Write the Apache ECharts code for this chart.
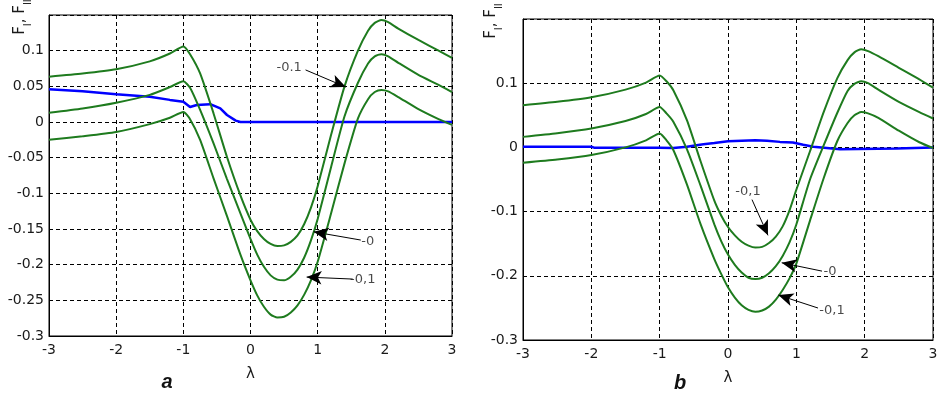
<!DOCTYPE html>
<html>
<head>
<meta charset="utf-8">
<script src="https://cdn.jsdelivr.net/npm/echarts@6/dist/echarts.min.js"></script>
<style>
html,body{margin:0;padding:0;background:#fff}
#chart{width:944px;height:394px}
</style>
</head>
<body>
<div id="chart"></div>
<script>
// panel a
var lamA=[-3,-2.5,-2,-1.5,-1.2,-1,-0.9,-0.75,-0.55,-0.35,-0.15,0,0.1,0.2,0.3,0.4,0.5,0.6,0.7,0.8,0.9,1,1.2,1.4,1.6,1.75,1.85,1.95,2.05,2.2,2.5,2.8,3]
var upA=[0.0635,0.068,0.074,0.085,0.096,0.106,0.095,0.068,0.012,-0.049,-0.103,-0.137,-0.153,-0.164,-0.171,-0.174,-0.173,-0.168,-0.159,-0.143,-0.12,-0.09,-0.018,0.05,0.1,0.128,0.139,0.143,0.14,0.131,0.115,0.1,0.09]
var midA=[0.013,0.019,0.027,0.038,0.049,0.057,0.048,0.017,-0.03,-0.08,-0.128,-0.164,-0.186,-0.203,-0.215,-0.221,-0.222,-0.217,-0.207,-0.19,-0.166,-0.136,-0.063,0.008,0.055,0.082,0.092,0.095,0.092,0.083,0.066,0.052,0.042]
var lowA=[-0.025,-0.02,-0.014,-0.003,0.006,0.014,0.004,-0.025,-0.079,-0.132,-0.186,-0.222,-0.243,-0.259,-0.27,-0.274,-0.273,-0.267,-0.257,-0.242,-0.222,-0.196,-0.128,-0.058,0.005,0.032,0.042,0.045,0.043,0.035,0.018,0.004,-0.004]
var blueLamA=[-3,-2.5,-2,-1.5,-1.2,-1,-0.9,-0.8,-0.6,-0.45,-0.35,-0.22,-0.15,0,1,2,3]
var blueA=[0.046,0.043,0.039,0.0355,0.031,0.0285,0.021,0.0238,0.025,0.019,0.0098,0.002,0,0,0,0,0]

// panel b
var lamB=[-3,-2.5,-2,-1.5,-1.2,-1,-0.9,-0.8,-0.6,-0.4,-0.2,-0.1,0,0.1,0.2,0.3,0.4,0.5,0.6,0.7,0.8,0.9,1,1.2,1.4,1.6,1.75,1.85,1.95,2.05,2.2,2.5,2.8,3]
var upB=[0.0658,0.071,0.078,0.09,0.101,0.112,0.103,0.089,0.042,-0.022,-0.083,-0.106,-0.124,-0.137,-0.147,-0.153,-0.156,-0.155,-0.149,-0.139,-0.123,-0.098,-0.066,-0.006,0.055,0.108,0.136,0.148,0.153,0.15,0.142,0.124,0.106,0.093]
var midB=[0.0164,0.022,0.0294,0.041,0.052,0.063,0.053,0.04,-0.003,-0.06,-0.12,-0.146,-0.167,-0.183,-0.195,-0.203,-0.205,-0.203,-0.196,-0.185,-0.169,-0.148,-0.12,-0.05,0.003,0.054,0.088,0.099,0.103,0.1,0.09,0.071,0.055,0.045]
var lowB=[-0.024,-0.019,-0.012,0,0.011,0.0217,0.011,-0.004,-0.058,-0.12,-0.174,-0.197,-0.218,-0.234,-0.246,-0.253,-0.256,-0.254,-0.248,-0.237,-0.222,-0.204,-0.181,-0.114,-0.048,0.01,0.038,0.05,0.055,0.053,0.046,0.026,0.008,-0.001]
var blueLamB=[-3,-2,-1.95,-1,-0.8,-0.6,-0.46,-0.36,-0.2,0,0.4,0.57,0.76,0.95,1.1,1.25,1.64,2.47,3]
var blueB=[0.001,0.001,-0.0007,-0.0007,-0.001,0.001,0.0035,0.005,0.007,0.0097,0.011,0.0102,0.0086,0.0077,0.004,0.001,-0.0027,-0.0016,0]

// annotations (data coords)
var noteTextA=['-0.1','-0','-0,1']
var noteAtA=[[0.575,0.0757],[1.746,-0.1683],[1.672,-0.2216]]
var arrowA=[[[0.82,0.073],[1.42,0.049]],[[1.642,-0.1655],[0.94,-0.154]],[[1.522,-0.2202],[0.836,-0.2174]]]
var noteTextB=['-0,1','-0','-0,1']
var noteAtB=[[0.293,-0.0688],[1.493,-0.194],[1.522,-0.2549]]
var arrowB=[[[0.351,-0.0813],[0.585,-0.137]],[[1.376,-0.1927],[0.786,-0.1797]],[[1.317,-0.2502],[0.736,-0.23]]]

var green='#1e7b1e',blue='#0000ff',txt='#1a1a1a'
var fnt='DejaVu Sans, sans-serif'

function pairs(xs,ys){
	return xs.map(function(x,i){return [x,ys[i]]})
}

function greenLine(idx,xs,ys){
	return {type:'line',xAxisIndex:idx,yAxisIndex:idx,data:pairs(xs,ys),showSymbol:false,smooth:0.2,
		lineStyle:{color:green,width:2},itemStyle:{color:green},silent:true,animation:false,z:3}
}

function blueLine(idx,xs,ys,arrows){
	return {type:'line',xAxisIndex:idx,yAxisIndex:idx,data:pairs(xs,ys),showSymbol:false,
		lineStyle:{color:blue,width:2.5},silent:true,animation:false,z:2,
		markLine:{silent:true,animation:false,symbol:['none','arrow'],symbolSize:[10,15],
			lineStyle:{color:'#000',width:1,type:'solid'},label:{show:false},
			data:arrows.map(function(a){return [{coord:a[0],symbol:'none'},{coord:a[1],symbol:'arrow'}]})}}
}

function notes(idx,texts,at){
	return {type:'scatter',xAxisIndex:idx,yAxisIndex:idx,symbolSize:1,itemStyle:{color:'rgba(0,0,0,0)'},
		silent:true,animation:false,z:5,
		data:at.map(function(p,i){return {value:p,name:texts[i]}}),
		label:{show:true,position:'inside',formatter:'{b}',color:txt,fontSize:13,fontFamily:fnt}}
}

function xAx(idx,gap){
	return {type:'value',gridIndex:idx,min:-3,max:3,interval:1,
		name:'λ',nameLocation:'middle',nameGap:gap,nameTextStyle:{color:txt,fontSize:15,fontFamily:fnt},
		axisLine:{show:true,onZero:false,lineStyle:{color:'#000'}},axisTick:{show:false},
		axisLabel:{color:txt,fontSize:14,fontFamily:fnt,margin:7},
		splitLine:{show:true,lineStyle:{color:'#000',type:[4,3],width:1}}}
}

function yAx(idx,min,max,step){
	return {type:'value',gridIndex:idx,min:min,max:max,interval:step,
		axisLine:{show:true,onZero:false,lineStyle:{color:'#000'}},axisTick:{show:false},
		axisLabel:{color:txt,fontSize:14,fontFamily:fnt,margin:5,showMaxLabel:false},
		splitLine:{show:true,lineStyle:{color:'#000',type:[4,3],width:1}}}
}

function yName(x,y){
	return {type:'text',x:x,y:y,rotation:Math.PI/2,silent:true,
		style:{text:'{n|F}{s|I}{n|, F}{s|II}',align:'center',verticalAlign:'middle',
			rich:{n:{fontSize:15,fontFamily:fnt,fill:txt,lineHeight:20,verticalAlign:'top'},
				s:{fontSize:10,fontFamily:fnt,fill:txt,lineHeight:20,verticalAlign:'bottom'}}}}
}

var myChart=echarts.init(document.getElementById('chart'))
option={
	backgroundColor:'#fff',
	animation:false,
	grid:[
		{left:49,top:15,width:403,height:321,show:true,borderColor:'#000',borderWidth:1},
		{left:523,top:19,width:410,height:321,show:true,borderColor:'#000',borderWidth:1}
	],
	xAxis:[xAx(0,31),xAx(1,31)],
	yAxis:[yAx(0,-0.3,0.15,0.05),yAx(1,-0.3,0.2,0.1)],
	series:[
		greenLine(0,lamA,upA),greenLine(0,lamA,midA),greenLine(0,lamA,lowA),
		blueLine(0,blueLamA,blueA,arrowA),notes(0,noteTextA,noteAtA),
		greenLine(1,lamB,upB),greenLine(1,lamB,midB),greenLine(1,lamB,lowB),
		blueLine(1,blueLamB,blueB,arrowB),notes(1,noteTextB,noteAtB)
	],
	graphic:[
		yName(23,17),yName(494,21),
		{type:'text',x:167,y:382,silent:true,style:{text:'a',font:'italic bold 20px Liberation Sans, Arial, sans-serif',fill:'#111',align:'center',verticalAlign:'middle'}},
		{type:'text',x:680,y:383,silent:true,style:{text:'b',font:'italic bold 20px Liberation Sans, Arial, sans-serif',fill:'#111',align:'center',verticalAlign:'middle'}}
	]
}
myChart.setOption(option)
</script>
</body>
</html>
